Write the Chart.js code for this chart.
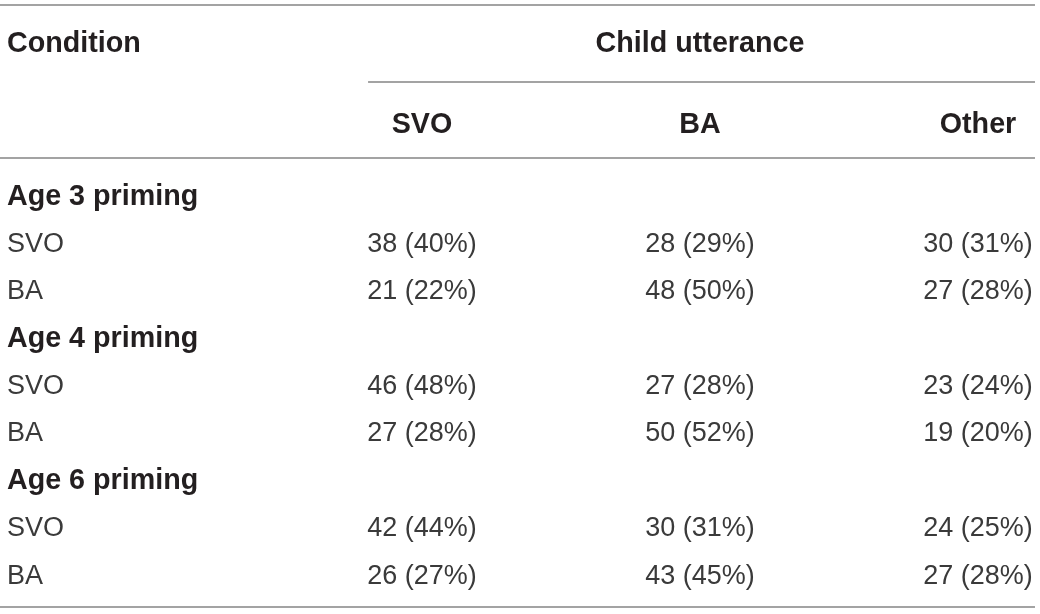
<!DOCTYPE html>
<html>
<head>
<meta charset="utf-8">
<script src="https://cdn.jsdelivr.net/npm/chart.js@4"></script>
<style>
  html, body { margin: 0; padding: 0; background: #ffffff; }
  #wrap { width: 1040px; height: 614px; position: relative; }
</style>
</head>
<body>
<div id="wrap"><canvas id="c"></canvas></div>
<script>
// ---- Table content ----
const columnHeaders = ['SVO', 'BA', 'Other'];
const spanHeader = 'Child utterance';
const stubHeader = 'Condition';
const rowLabels = ['Age 3 priming', 'SVO', 'BA', 'Age 4 priming', 'SVO', 'BA', 'Age 6 priming', 'SVO', 'BA'];
const groupRows = [0, 3, 6];          // bold group heading rows
const dataRows = [1, 2, 4, 5, 7, 8];  // rows carrying counts
const svoCounts   = [38, 21, 46, 27, 42, 26];
const svoPct      = [40, 22, 48, 28, 44, 27];
const baCounts    = [28, 48, 27, 50, 30, 43];
const baPct       = [29, 50, 28, 52, 31, 45];
const otherCounts = [30, 27, 23, 19, 24, 27];
const otherPct    = [31, 28, 24, 20, 25, 28];

// ---- Layout in scale units (column index / row index) ----
const stubX = -0.493;
const headRowY = -1.52;
const topHeadY = -3.23;
const rules = [
  { y: -4.05,  x0: -0.518, x1: 3.205 },
  { y: -2.426, x0: 0.806,  x1: 3.205 },
  { y: -0.823, x0: -0.518, x1: 3.205 },
  { y: 8.65,   x0: -0.518, x1: 3.205 }
];

const cell = (n, p) => n + ' (' + p + '%)';
const BOLD = 'bold 28.7px "Liberation Sans", Arial, sans-serif';
const REG = '27px "Liberation Sans", Arial, sans-serif';
const BOLD_COLOR = '#231f20';
const REG_COLOR = '#3a3a3a';

const datasets = [];
// stub column
datasets.push({
  label: 'stub',
  data: [{ x: stubX, y: topHeadY }].concat(rowLabels.map((_, i) => ({ x: stubX, y: i }))),
  texts: [stubHeader].concat(rowLabels),
  fonts: [BOLD].concat(rowLabels.map((_, i) => groupRows.includes(i) ? BOLD : REG)),
  colors: [BOLD_COLOR].concat(rowLabels.map((_, i) => groupRows.includes(i) ? BOLD_COLOR : REG_COLOR)),
  align: 'left'
});
// span header
datasets.push({
  label: 'span',
  data: [{ x: 2, y: topHeadY }],
  texts: [spanHeader], fonts: [BOLD], colors: [BOLD_COLOR], align: 'center'
});
// value columns
const cols = [[svoCounts, svoPct], [baCounts, baPct], [otherCounts, otherPct]];
cols.forEach((c, ci) => {
  const x = ci + 1;
  datasets.push({
    label: columnHeaders[ci],
    data: [{ x: x, y: headRowY }].concat(dataRows.map(r => ({ x: x, y: r }))),
    texts: [columnHeaders[ci]].concat(c[0].map((n, k) => cell(n, c[1][k]))),
    fonts: [BOLD].concat(dataRows.map(() => REG)),
    colors: [BOLD_COLOR].concat(dataRows.map(() => REG_COLOR)),
    align: 'center'
  });
});
datasets.forEach(d => { d.pointRadius = 0; d.pointHoverRadius = 0; d.showLine = false; });

const tablePlugin = {
  id: 'tableText',
  beforeDatasetsDraw(chart) {
    const ctx = chart.ctx, xs = chart.scales.x, ys = chart.scales.y;
    ctx.save();
    ctx.strokeStyle = '#858585';
    ctx.lineWidth = 1.6;
    rules.forEach(r => {
      const y = ys.getPixelForValue(r.y);
      ctx.beginPath();
      ctx.moveTo(xs.getPixelForValue(r.x0), y);
      ctx.lineTo(xs.getPixelForValue(r.x1), y);
      ctx.stroke();
    });
    ctx.restore();
  },
  afterDatasetsDraw(chart) {
    const ctx = chart.ctx;
    ctx.save();
    ctx.textBaseline = 'middle';
    chart.data.datasets.forEach((ds, di) => {
      const meta = chart.getDatasetMeta(di);
      ctx.textAlign = ds.align;
      meta.data.forEach((el, i) => {
        ctx.font = ds.fonts[i];
        ctx.fillStyle = ds.colors[i];
        ctx.fillText(ds.texts[i], el.x, el.y);
      });
    });
    ctx.restore();
  }
};

new Chart(document.getElementById('c'), {
  type: 'scatter',
  data: { datasets: datasets },
  options: {
    responsive: true,
    maintainAspectRatio: false,
    animation: false,
    layout: { padding: 0 },
    events: [],
    scales: {
      x: { type: 'linear', min: -0.518, max: 3.223, display: false },
      y: { type: 'linear', reverse: true, min: -4.156, max: 8.798, display: false }
    },
    plugins: { legend: { display: false }, tooltip: { enabled: false } }
  },
  plugins: [tablePlugin]
});
</script>
</body>
</html>
